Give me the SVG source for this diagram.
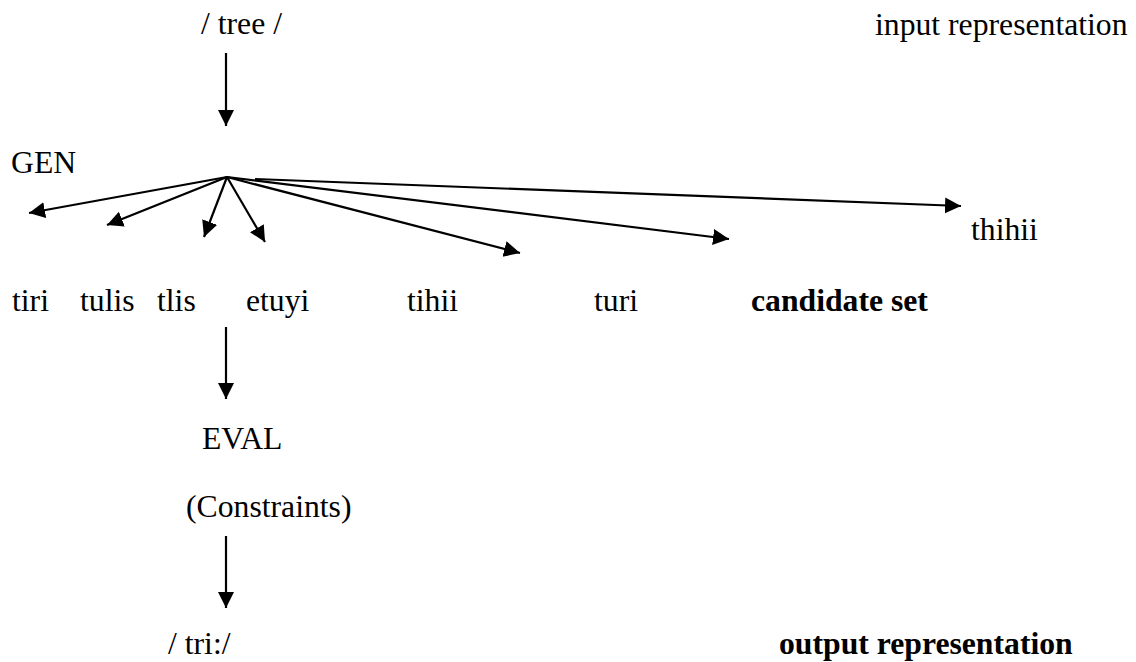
<svg xmlns="http://www.w3.org/2000/svg" width="1136" height="662" viewBox="0 0 1136 662">
  <style>
    text { font-family: "Liberation Serif", "Times New Roman", serif; font-size: 31.7px; fill: #000; }
    .b { font-weight: bold; }
    .edge { stroke: #000; stroke-width: 2.2; fill: none; marker-end: url(#head); }
  </style>
  <defs>
    <marker id="head" markerUnits="userSpaceOnUse" markerWidth="17" markerHeight="17" refX="16" refY="8" orient="auto">
      <path d="M0,0 L16,8 L0,16 z" fill="#000"/>
    </marker>
  </defs>
  <rect width="1136" height="662" fill="#fff"/>

  <g id="connectors">
    <line class="edge" x1="226" y1="53" x2="226" y2="126"/>
    <line class="edge" x1="227" y1="177" x2="29" y2="213"/>
    <line class="edge" x1="227" y1="177" x2="107" y2="225"/>
    <line class="edge" x1="227" y1="177" x2="204" y2="237"/>
    <line class="edge" x1="227" y1="177" x2="265" y2="242"/>
    <line class="edge" x1="227" y1="177" x2="520" y2="253"/>
    <line class="edge" x1="227" y1="177" x2="729" y2="239"/>
    <line class="edge" x1="255" y1="179" x2="961" y2="206"/>
    <line class="edge" x1="226" y1="327" x2="226" y2="399"/>
    <line class="edge" x1="226" y1="536" x2="226" y2="608"/>
  </g>

  <g id="input"><text x="201" y="34">/ tree /</text></g>
  <g id="input-label"><text x="875" y="35">input representation</text></g>
  <g id="gen"><text x="11" y="173">GEN</text></g>
  <g id="cand-thihii"><text x="971" y="240">thihii</text></g>
  <g id="cand-tiri"><text x="12" y="311">tiri</text></g>
  <g id="cand-tulis"><text x="80" y="311">tulis</text></g>
  <g id="cand-tlis"><text x="157" y="311">tlis</text></g>
  <g id="cand-etuyi"><text x="246" y="311">etuyi</text></g>
  <g id="cand-tihii"><text x="407" y="311">tihii</text></g>
  <g id="cand-turi"><text x="594" y="311">turi</text></g>
  <g id="cand-label"><text class="b" x="751" y="311">candidate set</text></g>
  <g id="eval"><text x="202" y="449">EVAL</text></g>
  <g id="constraints"><text x="186" y="517">(Constraints)</text></g>
  <g id="output"><text x="168" y="654">/ tri:/</text></g>
  <g id="output-label"><text class="b" x="779" y="654">output representation</text></g>
</svg>
